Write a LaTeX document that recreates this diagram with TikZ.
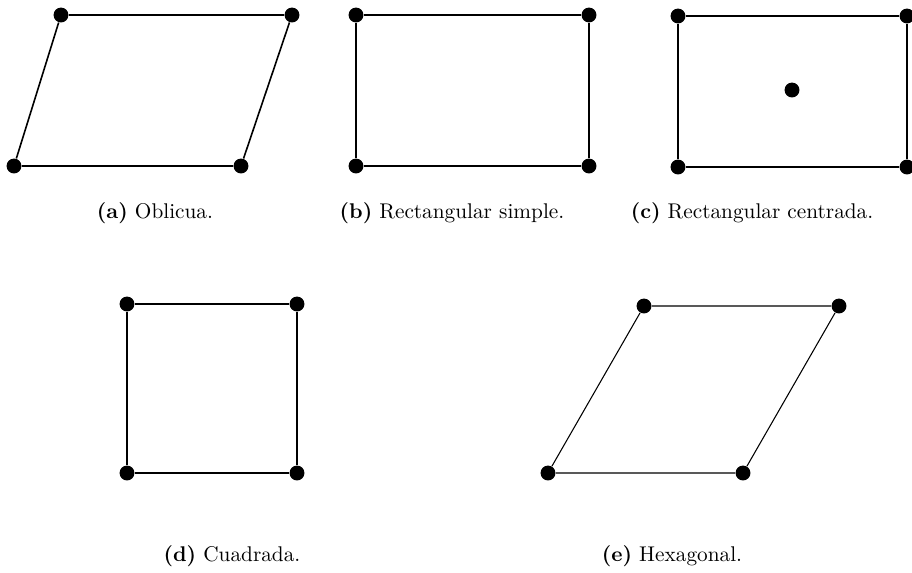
\documentclass[tikz,border=0pt]{standalone}
\usepackage{tikz}
\usetikzlibrary{positioning}
\tikzset{
    latpoint/.style={circle, fill=black, inner sep=0pt, minimum size=7pt},
    latedge/.style={line width=0.75pt},
    latthin/.style={line width=0.5pt},
    latcaption/.style={inner sep=0pt}
}
\begin{document}
\begin{tikzpicture}[x=0.47pt, y=-0.47pt]
    \useasboundingbox (0,0) rectangle (912,572);

    % (a) oblicua
    \node[latpoint] (a1) at (14,166) {};
    \node[latpoint] (a2) at (241,166) {};
    \node[latpoint] (a3) at (292,15) {};
    \node[latpoint] (a4) at (61,15) {};
    \draw[latedge] (a1) -- (a2) -- (a3) -- (a4) -- (a1);
    \node[latcaption] (capa) at (155,213) {\textbf{(a)} Oblicua.};

    % (b) rectangular simple
    \node[latpoint] (b1) at (356,166) {};
    \node[latpoint] (b2) at (589,166) {};
    \node[latpoint] (b3) at (589,15) {};
    \node[latpoint] (b4) at (356,15) {};
    \draw[latthin] (b1) -- (b2) -- (b3) -- (b4) -- (b1);
    \node[latcaption] (capb) at (452,213) {\textbf{(b)} Rectangular simple.};

    % (c) rectangular centrada
    \node[latpoint] (c1) at (678,167) {};
    \node[latpoint] (c2) at (907,167) {};
    \node[latpoint] (c3) at (907,16) {};
    \node[latpoint] (c4) at (678,16) {};
    \node[latpoint] (c5) at (792,90) {};
    \draw[latedge] (c1) -- (c2) -- (c3) -- (c4) -- (c1);
    \node[latcaption] (capc) at (752,213) {\textbf{(c)} Rectangular centrada.};

    % (d) cuadrada
    \node[latpoint] (d1) at (127,473) {};
    \node[latpoint] (d2) at (297,473) {};
    \node[latpoint] (d3) at (297,304) {};
    \node[latpoint] (d4) at (127,304) {};
    \draw[latthin] (d1) -- (d2) -- (d3) -- (d4) -- (d1);
    \node[latcaption] (capd) at (232,556) {\textbf{(d)} Cuadrada.};

    % (e) hexagonal
    \node[latpoint] (e1) at (548,473) {};
    \node[latpoint] (e2) at (743,473) {};
    \node[latpoint] (e3) at (839,306) {};
    \node[latpoint] (e4) at (644,306) {};
    \draw[latthin] (e1) -- (e2) -- (e3) -- (e4) -- (e1);
    \node[latcaption] (cape) at (672,556) {\textbf{(e)} Hexagonal.};
\end{tikzpicture}
\end{document}
